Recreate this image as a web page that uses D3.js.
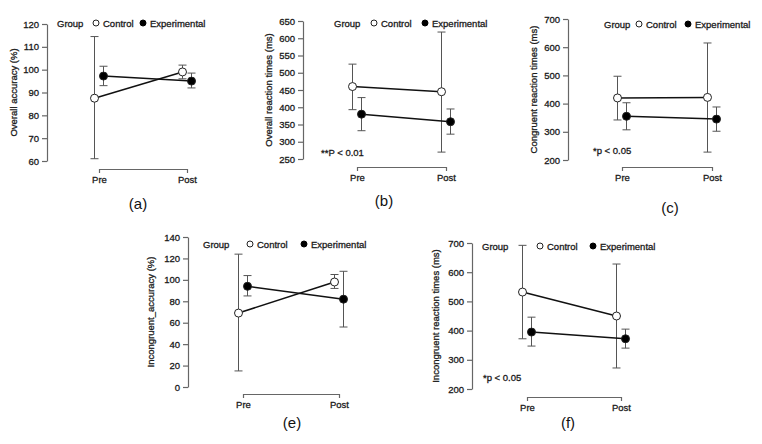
<!DOCTYPE html>
<html><head><meta charset="utf-8">
<script src="https://cdn.jsdelivr.net/npm/d3@7/dist/d3.min.js"></script>
<style>
body{margin:0;background:#fff;}
svg{display:block;}
text{font-family:"Liberation Sans",Arial,sans-serif;}
.sm{font-size:9.5px;fill:#1a1a1a;stroke:#1a1a1a;stroke-width:0.3px;}
</style></head>
<body>
<svg id="chart" width="762" height="444"></svg>
<script>
// ---- data ----
const groups = ["Control", "Experimental"];
const timepoints = ["Pre", "Post"];
const panelLabels = ["(a)", "(b)", "(c)", "(e)", "(f)"];
const yTitles = ["Overall accuracy (%)", "Overall reaction times (ms)", "Congruent reaction times (ms)",
                 "Incongruent_accuracy (%)", "Incongruent reaction times (ms)"];
const yDomains = [[60, 120], [250, 650], [200, 700], [0, 140], [200, 700]];
const yTickSteps = [10, 50, 100, 20, 100];
const pValueNotes = ["", "**P < 0.01", "*p < 0.05", "", "*p < 0.05"];
// values per panel as [Pre, Post]
const controlMean  = [[87.5, 99], [460, 445], [420, 422], [69, 98], [532, 450]];
const controlLower = [[61, 96], [393, 270], [342, 228], [15, 92], [372, 272]];
const controlUpper = [[114.5, 102], [525, 618], [497, 615], [124, 105], [692, 628]];
const expMean      = [[97.2, 95], [380, 358], [355, 345], [94, 82], [395, 372]];
const expLower     = [[93, 92], [332, 322], [307, 302], [85, 56], [347, 340]];
const expUpper     = [[101.5, 98.5], [428, 395], [403, 388], [104, 108], [446, 405]];

// ---- layout (pixel positions per panel) ----
const layout = [
  {ax: 47,  yTop: 24,  yBot: 161, pre: 99,  post: 187, bracketY: 169, legY: 23,  groupX: 57,  ctrlX: 96,  expX: 143, titleX: 13,  capX: 138, capY: 203, pX: 0,   pY: 0},
  {ax: 303, yTop: 21,  yBot: 159, pre: 357, post: 446, bracketY: 167, legY: 23,  groupX: 334, ctrlX: 374, expX: 425, titleX: 268, capX: 384, capY: 200, pX: 321, pY: 152},
  {ax: 568, yTop: 19,  yBot: 160, pre: 622, post: 712, bracketY: 167, legY: 24,  groupX: 604, ctrlX: 639, expX: 688, titleX: 533, capX: 670, capY: 207, pX: 593, pY: 150},
  {ax: 188, yTop: 237, yBot: 387, pre: 243, post: 339, bracketY: 394, legY: 244, groupX: 203, ctrlX: 250, expX: 304, titleX: 150, capX: 292, capY: 422, pX: 0,   pY: 0},
  {ax: 472, yTop: 243, yBot: 389, pre: 527, post: 621, bracketY: 397, legY: 246, groupX: 482, ctrlX: 540, expX: 593, titleX: 435, capX: 568, capY: 422, pX: 483, pY: 377}
];

const svg = d3.select("#chart");
const axisColor = "#666";
const dodge = 4.5;

layout.forEach((L, i) => {
  const g = svg.append("g");
  const y = d3.scaleLinear().domain(yDomains[i]).range([L.yBot, L.yTop]);
  const x = d3.scalePoint().domain(timepoints).range([L.pre, L.post]);
  const ticks = d3.range(yDomains[i][0], yDomains[i][1] + 0.001, yTickSteps[i]);

  // y axis
  const ya = g.append("g").attr("transform", `translate(${L.ax},0)`)
    .call(d3.axisLeft(y).tickValues(ticks).tickSizeOuter(0).tickSizeInner(5).tickPadding(3));
  ya.select(".domain").attr("stroke", axisColor).attr("stroke-width", 1.2);
  ya.selectAll(".tick line").attr("stroke", axisColor).attr("stroke-width", 1.2);
  ya.selectAll("text").attr("class", "sm").attr("font-size", null).attr("font-family", null);

  // x axis bracket
  const xa = g.append("g").attr("transform", `translate(0,${L.bracketY})`)
    .call(d3.axisBottom(x).tickSizeOuter(0).tickSizeInner(4).tickPadding(3));
  xa.select(".domain").attr("stroke", axisColor).attr("stroke-width", 1.2);
  xa.selectAll(".tick line").attr("stroke", axisColor).attr("stroke-width", 1.2);
  xa.selectAll("text").attr("class", "sm").attr("font-size", null).attr("font-family", null);
  ya.attr("font-size", null).attr("font-family", null);
  xa.attr("font-size", null).attr("font-family", null);

  // y title
  g.append("text").attr("class", "sm")
    .attr("transform", `translate(${L.titleX},${(L.yTop + L.yBot) / 2}) rotate(-90)`)
    .attr("text-anchor", "middle").attr("dominant-baseline", "central")
    .text(yTitles[i]);

  const series = [
    {name: groups[0], mean: controlMean[i], lo: controlLower[i], hi: controlUpper[i], off: -dodge, fill: "#fff"},
    {name: groups[1], mean: expMean[i], lo: expLower[i], hi: expUpper[i], off: dodge, fill: "#000"}
  ];

  series.forEach(s => {
    const pts = timepoints.map((t, k) => ({x: x(t) + s.off, m: s.mean[k], lo: s.lo[k], hi: s.hi[k]}));
    pts.forEach(p => {
      g.append("line").attr("x1", p.x).attr("x2", p.x).attr("y1", y(p.lo)).attr("y2", y(p.hi))
        .attr("stroke", "#555").attr("stroke-width", 1);
      [p.lo, p.hi].forEach(v => g.append("line")
        .attr("x1", p.x - 4).attr("x2", p.x + 4).attr("y1", y(v)).attr("y2", y(v))
        .attr("stroke", "#555").attr("stroke-width", 1));
    });
  });
  series.forEach(s => {
    const pts = timepoints.map((t, k) => ({x: x(t) + s.off, m: s.mean[k]}));
    g.append("path").attr("d", d3.line().x(d => d.x).y(d => y(d.m))(pts))
      .attr("fill", "none").attr("stroke", "#111").attr("stroke-width", 1.5);
  });
  series.forEach(s => {
    timepoints.forEach((t, k) => {
      g.append("circle").attr("cx", x(t) + s.off).attr("cy", y(s.mean[k])).attr("r", 4)
        .attr("fill", s.fill).attr("stroke", "#222").attr("stroke-width", 1);
    });
  });

  // legend
  g.append("text").attr("class", "sm").attr("x", L.groupX).attr("y", L.legY)
    .attr("dominant-baseline", "central").text("Group");
  g.append("circle").attr("cx", L.ctrlX).attr("cy", L.legY).attr("r", 3)
    .attr("fill", "#fff").attr("stroke", "#222").attr("stroke-width", 1);
  g.append("text").attr("class", "sm").attr("x", L.ctrlX + 7).attr("y", L.legY)
    .attr("dominant-baseline", "central").text(groups[0]);
  g.append("circle").attr("cx", L.expX).attr("cy", L.legY).attr("r", 3)
    .attr("fill", "#000").attr("stroke", "#000");
  g.append("text").attr("class", "sm").attr("x", L.expX + 7).attr("y", L.legY)
    .attr("dominant-baseline", "central").text(groups[1]);

  if (pValueNotes[i]) {
    g.append("text").attr("class", "sm").attr("x", L.pX).attr("y", L.pY)
      .attr("dominant-baseline", "central").text(pValueNotes[i]);
  }

  // caption
  g.append("text").attr("x", L.capX).attr("y", L.capY).attr("text-anchor", "middle")
    .attr("dominant-baseline", "central").attr("font-size", 15)
    .attr("font-family", "'Open Sans', Lato, sans-serif").attr("fill", "#111").text(panelLabels[i]);
});
</script>
</body></html>
